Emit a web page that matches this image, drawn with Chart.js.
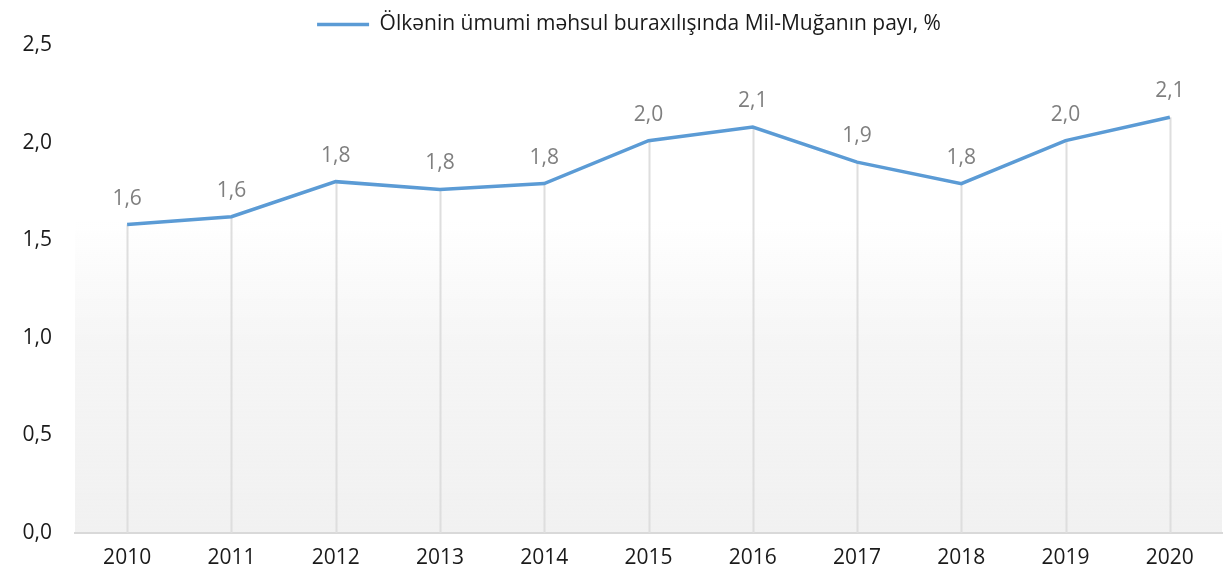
<!DOCTYPE html>
<html>
<head>
<meta charset="utf-8">
<script src="https://cdn.jsdelivr.net/npm/chart.js@4"></script>
<style>
  html, body { margin: 0; padding: 0; background: #fff; }
  #wrap { width: 1231px; height: 577px; }
</style>
</head>
<body>
<div id="wrap"><canvas id="share"></canvas></div>
<script>
// Years along the x axis
const years = ['2010', '2011', '2012', '2013', '2014', '2015', '2016', '2017', '2018', '2019', '2020'];
// Mil-Mugan share of the country's gross output, %
const shareValues = [1.58, 1.62, 1.80, 1.76, 1.79, 2.01, 2.08, 1.90, 1.79, 2.01, 2.13];
// Y axis ticks
const yTicks = [0, 0.5, 1.0, 1.5, 2.0, 2.5];

const seriesLabel = 'Ölkənin ümumi məhsul buraxılışında Mil-Muğanın payı, %';
const lineColor = '#5b9bd5';
const fontFamily = '"Open Sans", "DejaVu Sans", sans-serif';

// comma as decimal separator
function fmt(v) {
    return v.toFixed(1).replace('.', ',');
}

// soft grey fade in the plot area
const plotShade = {
    id: 'plotShade',
    beforeDraw(chart) {
        const { ctx, chartArea: a, scales } = chart;
        const top = scales.y.getPixelForValue(1.6);
        const g = ctx.createLinearGradient(0, top, 0, a.bottom);
        g.addColorStop(0, 'rgba(242,242,242,0)');
        g.addColorStop(0.4, 'rgba(242,242,242,0.75)');
        g.addColorStop(1, 'rgba(241,241,241,1)');
        ctx.save();
        ctx.fillStyle = g;
        ctx.fillRect(a.left, top, a.right - a.left, a.bottom - top);
        ctx.restore();

        // nudge the legend a bit to the right
        chart.legend.left += 18;
        chart.legend.right += 18;
    }
};

// drop lines from each point to the axis, and the value labels
const dropLines = {
    id: 'dropLines',
    beforeDatasetsDraw(chart) {
        const { ctx, chartArea: a } = chart;
        const meta = chart.getDatasetMeta(0);
        ctx.save();
        ctx.strokeStyle = '#dedede';
        ctx.lineWidth = 2;
        meta.data.forEach(p => {
            ctx.beginPath();
            ctx.moveTo(Math.round(p.x) + 0.5, p.y);
            ctx.lineTo(Math.round(p.x) + 0.5, a.bottom);
            ctx.stroke();
        });
        ctx.restore();
    },
    afterDatasetsDraw(chart) {
        const { ctx } = chart;
        const meta = chart.getDatasetMeta(0);
        const data = chart.data.datasets[0].data;
        ctx.save();
        ctx.fillStyle = '#7f7f7f';
        ctx.font = '21px ' + fontFamily;
        ctx.textAlign = 'center';
        ctx.textBaseline = 'middle';
        meta.data.forEach((p, i) => {
            ctx.fillText(fmt(data[i]), p.x, p.y - 26);
        });
        ctx.restore();
    }
};

const config = {
    type: 'line',
    data: {
        labels: years,
        datasets: [{
            label: seriesLabel,
            data: shareValues,
            borderColor: lineColor,
            backgroundColor: lineColor,
            borderWidth: 3.5,
            pointRadius: 0,
            pointHoverRadius: 0,
            tension: 0,
            pointStyle: 'line'
        }]
    },
    options: {
        responsive: true,
        maintainAspectRatio: false,
        animation: false,
        layout: { padding: { top: 6, right: 9, left: 0, bottom: 0 } },
        plugins: {
            legend: {
                position: 'top',
                labels: {
                    usePointStyle: true,
                    pointStyleWidth: 52,
                    color: '#1a1a1a',
                    font: { family: fontFamily, size: 21 },
                    padding: 8
                }
            },
            tooltip: { enabled: false }
        },
        scales: {
            x: {
                offset: true,
                afterFit(scale) {
                    scale.height = 44;
                },
                grid: { display: false, drawTicks: false },
                border: { display: true, color: '#d9d9d9', width: 2 },
                ticks: {
                    color: '#1a1a1a',
                    font: { family: fontFamily, size: 21 },
                    padding: 12,
                    maxRotation: 0
                }
            },
            y: {
                min: 0,
                max: 2.5,
                afterBuildTicks(scale) {
                    scale.ticks = yTicks.map(v => ({ value: v }));
                },
                afterFit(scale) {
                    scale.width = 75;
                },
                grid: { display: false, drawTicks: false },
                border: { display: false },
                ticks: {
                    color: '#1a1a1a',
                    font: { family: fontFamily, size: 21 },
                    padding: 23,
                    callback: v => fmt(v)
                }
            }
        }
    },
    plugins: [plotShade, dropLines]
};

new Chart(document.getElementById('share'), config);
</script>
</body>
</html>
